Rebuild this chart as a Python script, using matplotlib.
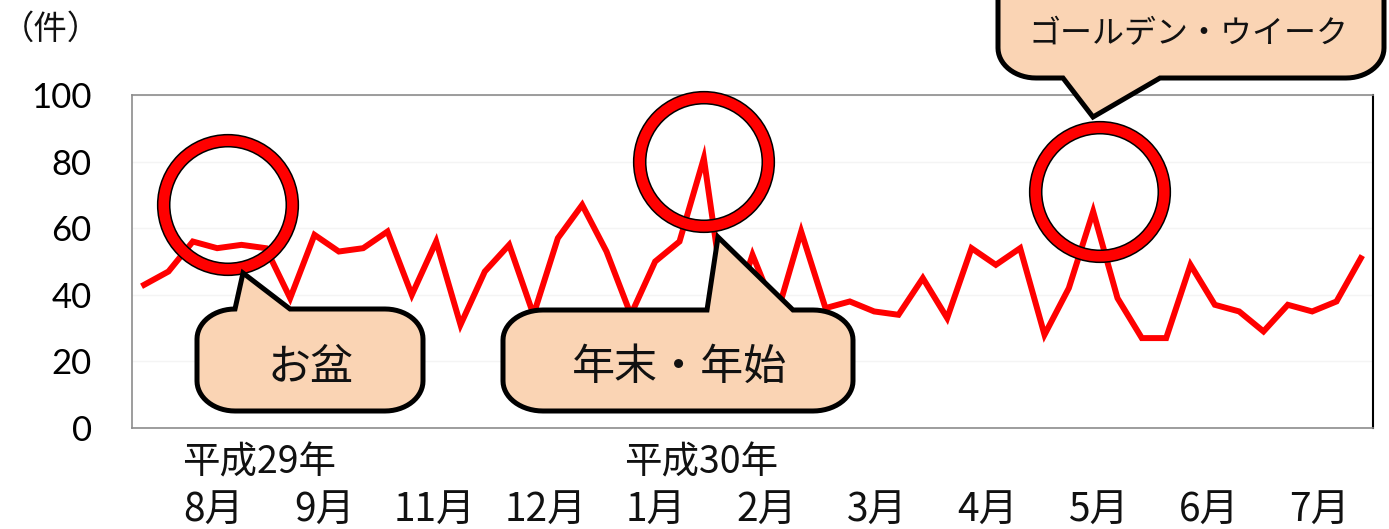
import numpy as np
import matplotlib
matplotlib.use("Agg")
import matplotlib.pyplot as plt
from matplotlib.patches import Circle, Polygon

plt.rcParams['font.family'] = ['Noto Sans CJK JP', 'DejaVu Sans']

# ---------------- data ----------------
counts = [43, 47, 56, 54, 55, 54, 39, 58, 53, 54,
          59, 40, 56, 31, 47, 55, 34, 57, 67, 53,
          34, 50, 56, 81, 30, 52, 34, 59, 36, 38,
          35, 34, 45, 33, 54, 49, 54, 28, 42, 65,
          39, 27, 27, 49, 37, 35, 29, 37, 35, 38, 51]
y_ticks = [0, 20, 40, 60, 80, 100]
year_labels = ["平成29年", "平成30年"]
month_labels = ["8月", "9月", "11月", "12月", "1月", "2月", "3月", "4月", "5月", "6月", "7月"]
unit_label = "（件）"
callout_texts = ["お盆", "年末・年始", "ゴールデン・ウイーク"]

# ---------------- figure ----------------
W, H = 1389, 529
fig = plt.figure(figsize=(W / 100, H / 100), dpi=100)
fig.patch.set_facecolor("white")

L, R, T, B = 132, 1373, 95, 428
ax = fig.add_axes([L / W, (H - B) / H, (R - L) / W, (B - T) / H])
x = np.arange(len(counts))
ax.plot(x, counts, color="#FF0000", lw=4.3, solid_joinstyle="miter", zorder=3)
ax.set_xlim(-0.5, len(counts) - 0.5)
ax.set_ylim(0, 100)
ax.set_yticks(y_ticks)
ax.set_yticklabels([str(v) for v in y_ticks], family=["Lato", "DejaVu Sans"], fontsize=25)
ax.tick_params(axis="y", length=0, pad=29)
ax.set_xticks([])
ax.grid(axis="y", color="#F4F4F4", lw=1)
for s in ["left", "top", "bottom"]:
    ax.spines[s].set_color("#8C8C8C")
    ax.spines[s].set_linewidth(1.2)
ax.spines["right"].set_color("#000000")
ax.spines["right"].set_linewidth(1.5)

# x-axis label rows (text boxes under the plot)
month_pos = np.linspace(2.85, 48.3, len(month_labels))
for lab, xp in zip(month_labels, month_pos):
    ax.text(xp, -0.25, lab, transform=ax.get_xaxis_transform(), ha="center", va="center",
            fontsize=28, color="#111111")
for lab, xp in zip(year_labels, [4.7, 22.9]):
    ax.text(xp, -0.105, lab, transform=ax.get_xaxis_transform(), ha="center", va="center",
            fontsize=27, color="#111111")

# ---------------- overlay (pixel coordinates) ----------------
ov = fig.add_axes([0, 0, 1, 1], zorder=5)
ov.set_xlim(0, W)
ov.set_ylim(H, 0)
ov.axis("off")
ov.patch.set_alpha(0)

ov.text(1, 29, unit_label, ha="left", va="center", fontsize=24, color="#111111")

# highlight circles
for cx, cy in [(228, 205), (704, 162), (1100, 192)]:
    ov.add_patch(Circle((cx, cy), 64.3, fill=False, ec="black", lw=9.8, zorder=6))
    ov.add_patch(Circle((cx, cy), 64.3, fill=False, ec="#FF0000", lw=7.6, zorder=7))


def callout(x0, y0, x1, y1, rx, ry, side, b0, b1, tip, n=16):
    pts = []
    def arc(cx, cy, a0, a1):
        for t in np.linspace(np.radians(a0), np.radians(a1), n):
            pts.append((cx + rx * np.cos(t), cy + ry * np.sin(t)))
    pts.append((x0 + rx, y0))
    if side == "top":
        pts += [(b0, y0), tip, (b1, y0)]
    arc(x1 - rx, y0 + ry, -90, 0)
    arc(x1 - rx, y1 - ry, 0, 90)
    if side == "bottom":
        pts += [(b1, y1), tip, (b0, y1)]
    arc(x0 + rx, y1 - ry, 90, 180)
    arc(x0 + rx, y0 + ry, 180, 270)
    return pts


peach = "#FAD4B4"
shapes = [
    callout(197, 309, 423, 411, 38, 30, "top", 235, 290, (243, 273)),
    callout(503, 310, 853, 411, 40, 30, "top", 707, 793, (718, 237)),
    callout(998, -40, 1384, 78, 38, 30, "bottom", 1063, 1160, (1093, 117)),
]
for pts in shapes:
    ov.add_patch(Polygon(pts, closed=True, fc=peach, ec="black", lw=3.6,
                         joinstyle="miter", zorder=8))

ov.text(310, 368, callout_texts[0], ha="center", va="center", fontsize=31, color="#111111", zorder=9)
ov.text(679, 368, callout_texts[1], ha="center", va="center", fontsize=31, color="#111111", zorder=9)
ov.text(1188, 34, callout_texts[2], ha="center", va="center", fontsize=23, color="#111111", zorder=9)

fig.savefig("out.png", dpi=100)
